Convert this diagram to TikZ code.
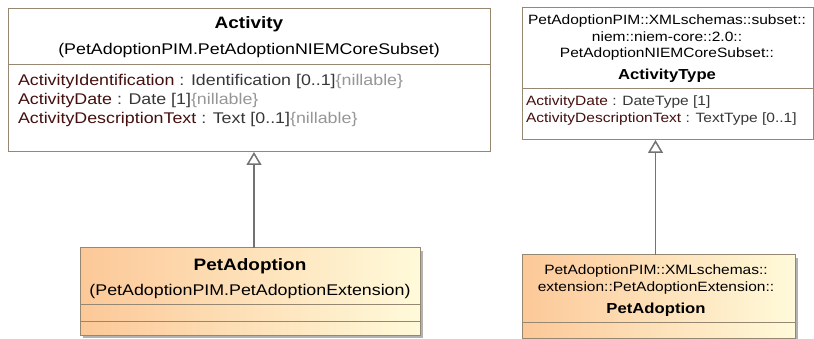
\documentclass[tikz,border=0pt]{standalone}
\usepackage{fontspec}
\setmainfont{Liberation Sans}[FakeStretch=1.15]
\usetikzlibrary{arrows.meta,shadows}
\definecolor{boxline}{RGB}{150,135,115}
\definecolor{attrname}{RGB}{70,15,15}
\definecolor{attrtype}{RGB}{55,55,55}
\definecolor{attrprop}{RGB}{150,150,150}
\definecolor{gencolor}{RGB}{115,115,115}

\begin{document}
\begin{tikzpicture}[x=1pt,y=-1pt,
  every node/.style={inner sep=0pt, outer sep=0pt},
  classbox/.style={draw=boxline, line width=1pt, fill=white, anchor=north west},
  extbox/.style={classbox, left color={rgb,255:red,252;green,200;blue,152}, right color={rgb,255:red,255;green,250;blue,218},
    drop shadow={shadow xshift=3pt, shadow yshift=-3pt, fill=black, opacity=0.3}},
  sepline/.style={draw=boxline, line width=1pt},
  bigtext/.style={font=\fontsize{15.5}{19}\selectfont, anchor=base},
  bigtitle/.style={font=\fontsize{16.5}{19}\selectfont\bfseries, anchor=base},
  smalltext/.style={font=\fontsize{13.5}{17}\selectfont, anchor=base},
  smalltitle/.style={font=\fontsize{14.5}{17}\selectfont\bfseries, anchor=base},
  bigattr/.style={font=\fontsize{15.5}{19}\selectfont, anchor=base west, text=attrtype},
  smallattr/.style={font=\fontsize{13.5}{17}\selectfont, anchor=base west, text=attrtype},
  generalization/.style={draw=gencolor, line width=1.5pt, -{Triangle[open, width=15pt, length=13pt, fill=white]}}]
\useasboundingbox (0,0) rectangle (814,339);

% Activity (core subset)
\node[classbox, minimum width=482pt, minimum height=143pt] (activity) at (8,9) {};
\draw[sepline] (activity.west |- 0,65) -- (activity.east |- 0,65);
\node[bigtitle] (activityname) at (249,29) {Activity};
\node[bigtext] (activitypkg) at (249,55) {(PetAdoptionPIM.PetAdoptionNIEMCoreSubset)};
\node[bigattr] (activityattra) at (18,86) {\textcolor{attrname}{ActivityIdentification} : Identification [0..1]\textcolor{attrprop}{\{nillable\}}};
\node[bigattr] (activityattrb) at (18,105) {\textcolor{attrname}{ActivityDate} : Date [1]\textcolor{attrprop}{\{nillable\}}};
\node[bigattr] (activityattrc) at (18,124) {\textcolor{attrname}{ActivityDescriptionText} : Text [0..1]\textcolor{attrprop}{\{nillable\}}};

% PetAdoption (extension)
\node[extbox, minimum width=340pt, minimum height=87pt] (petadoption) at (80,248) {};
\draw[sepline] (petadoption.west |- 0,304) -- (petadoption.east |- 0,304);
\draw[sepline] (petadoption.west |- 0,321) -- (petadoption.east |- 0,321);
\node[bigtitle] (petadoptionname) at (250,270) {PetAdoption};
\node[bigtext] (petadoptionpkg) at (250,295) {(PetAdoptionPIM.PetAdoptionExtension)};

% ActivityType (schema subset)
\node[classbox, minimum width=291pt, minimum height=132pt] (activitytype) at (522,8) {};
\draw[sepline] (activitytype.west |- 0,89) -- (activitytype.east |- 0,89);
\node[smalltext] (activitytypepkga) at (667,25) {PetAdoptionPIM::XMLschemas::subset::};
\node[smalltext] (activitytypepkgb) at (667,42) {niem::niem-core::2.0::};
\node[smalltext] (activitytypepkgc) at (667,58) {PetAdoptionNIEMCoreSubset::};
\node[smalltitle] (activitytypename) at (667,80) {ActivityType};
\node[smallattr] (activitytypeattra) at (526,106) {\textcolor{attrname}{ActivityDate} : DateType [1]};
\node[smallattr] (activitytypeattrb) at (526,123) {\textcolor{attrname}{ActivityDescriptionText} : TextType [0..1]};

% PetAdoption (schema extension)
\node[extbox, minimum width=273pt, minimum height=83pt] (petadoptiontype) at (522,255) {};
\draw[sepline] (petadoptiontype.west |- 0,322) -- (petadoptiontype.east |- 0,322);
\node[smalltext] (petadoptiontypepkga) at (656,274) {PetAdoptionPIM::XMLschemas::};
\node[smalltext] (petadoptiontypepkgb) at (656,291) {extension::PetAdoptionExtension::};
\node[smalltitle] (petadoptiontypename) at (656,313) {PetAdoption};

% generalizations
\draw[generalization] ([xshift=4pt]petadoption.north) -- ([xshift=4pt]petadoption.north |- activity.south);
\draw[generalization] ([xshift=-3pt]petadoptiontype.north) -- ([xshift=-3pt]petadoptiontype.north |- activitytype.south);
\end{tikzpicture}
\end{document}
